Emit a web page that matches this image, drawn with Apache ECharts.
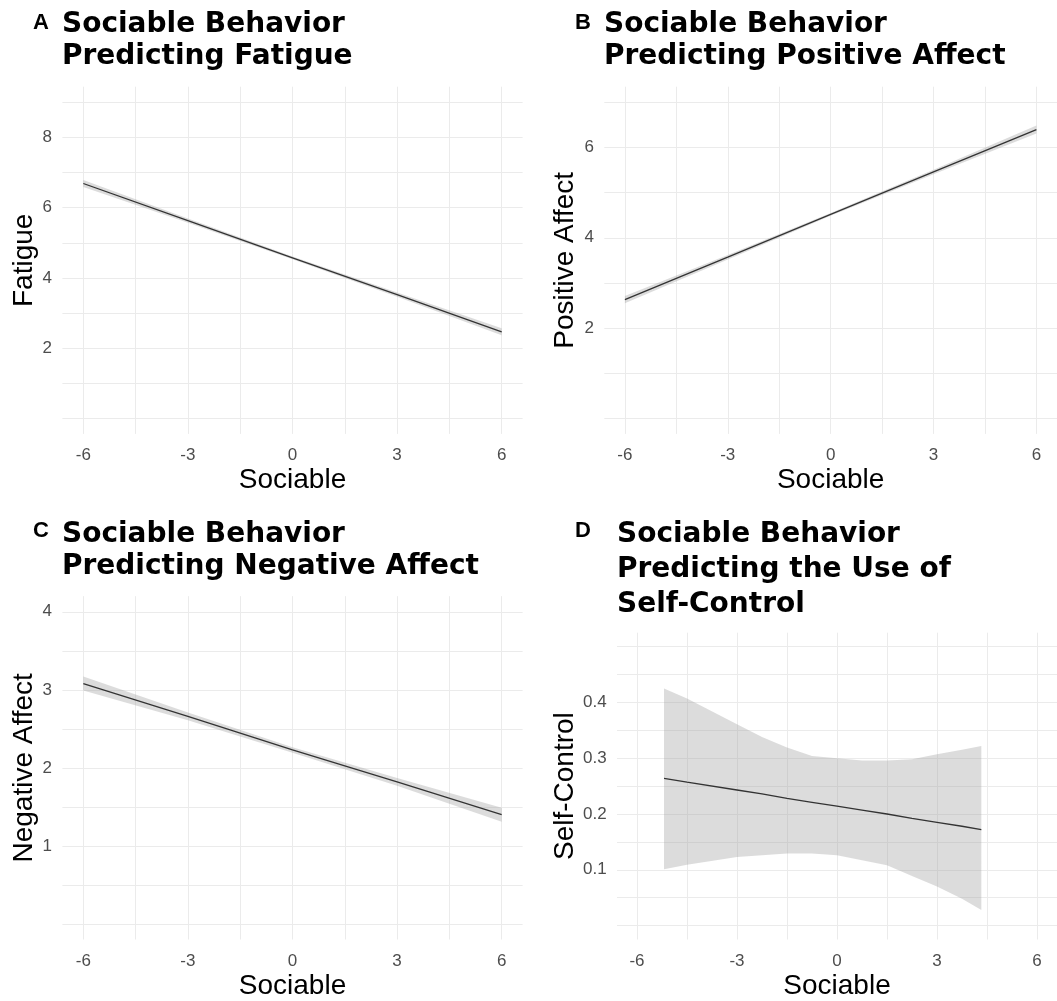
<!DOCTYPE html>
<html>
<head>
<meta charset="utf-8">
<script src="https://cdn.jsdelivr.net/npm/echarts@6/dist/echarts.min.js"></script>
<style>
  html, body { margin: 0; padding: 0; background: #ffffff; }
  #chart { width: 1057px; height: 1001px; }
</style>
</head>
<body>
<div id="chart"></div>
<script>
// ---- shared x axis: sociable behaviour (person-centred) ----
const xTitle = 'Sociable';
const xTickLabels = [-6, -3, 0, 3, 6];
const xGridValues = [-6, -4.5, -3, -1.5, 0, 1.5, 3, 4.5, 6];

// ---- A: fatigue ----
const fatigueX = [-6, -3, 0, 3, 6];
const fatigueFit = [6.69, 5.63, 4.57, 3.52, 2.46];
const fatigueLower = [6.59, 5.57, 4.53, 3.46, 2.36];
const fatigueUpper = [6.79, 5.69, 4.61, 3.58, 2.56];
const fatigueTicks = [2, 4, 6, 8];
const fatigueGrid = [0, 1, 2, 3, 4, 5, 6, 7, 8, 9];

// ---- B: positive affect ----
const positiveX = [-6, -3, 0, 3, 6];
const positiveFit = [2.63, 3.57, 4.52, 5.46, 6.40];
const positiveLower = [2.55, 3.52, 4.49, 5.41, 6.31];
const positiveUpper = [2.71, 3.62, 4.55, 5.51, 6.49];
const positiveTicks = [2, 4, 6];
const positiveGrid = [0, 1, 2, 3, 4, 5, 6, 7];

// ---- C: negative affect ----
const negativeX = [-6, -3, 0, 3, 6];
const negativeFit = [3.08, 2.66, 2.23, 1.82, 1.40];
const negativeLower = [2.99, 2.61, 2.195, 1.77, 1.31];
const negativeUpper = [3.17, 2.71, 2.265, 1.87, 1.49];
const negativeTicks = [1, 2, 3, 4];
const negativeGrid = [0, 0.5, 1, 1.5, 2, 2.5, 3, 3.5, 4];

// ---- D: use of self-control ----
const selfControlX = [-5.19, -4.5, -3, -2.25, -1.5, -0.75, 0, 0.75, 1.5, 2.25, 3, 3.75, 4.33];
const selfControlFit = [0.264, 0.257, 0.243, 0.236, 0.228, 0.221, 0.214, 0.207, 0.200, 0.192, 0.185, 0.178, 0.172];
const selfControlLower = [0.101, 0.109, 0.123, 0.126, 0.129, 0.129, 0.126, 0.117, 0.108, 0.089, 0.070, 0.048, 0.028];
const selfControlUpper = [0.425, 0.407, 0.361, 0.338, 0.319, 0.304, 0.300, 0.296, 0.296, 0.298, 0.307, 0.315, 0.322];
const selfControlTicks = [0.1, 0.2, 0.3, 0.4];
const selfControlGrid = [0, 0.05, 0.1, 0.15, 0.2, 0.25, 0.3, 0.35, 0.4, 0.45, 0.5];

// ---- panel layout and labels ----
const panels = [
  { tag: 'A', title: 'Sociable Behavior\nPredicting Fatigue', yTitle: 'Fatigue',
    x: fatigueX, fit: fatigueFit, lower: fatigueLower, upper: fatigueUpper,
    yTicks: fatigueTicks, yGrid: fatigueGrid, yMin: -0.45, yMax: 9.45,
    box: { left: 62.4, top: 86.7, width: 460.2, height: 347.2 },
    titlePos: [62, 9], titleLH: 31.7, tagPos: [33, 22.7], yNameGap: 23.4 },
  { tag: 'B', title: 'Sociable Behavior\nPredicting Positive Affect', yTitle: 'Positive Affect',
    x: positiveX, fit: positiveFit, lower: positiveLower, upper: positiveUpper,
    yTicks: positiveTicks, yGrid: positiveGrid, yMin: -0.35, yMax: 7.35,
    box: { left: 604.3, top: 86.7, width: 461.6, height: 347.2 },
    titlePos: [604, 9], titleLH: 31.7, tagPos: [575, 22.7], yNameGap: 24.7 },
  { tag: 'C', title: 'Sociable Behavior\nPredicting Negative Affect', yTitle: 'Negative Affect',
    x: negativeX, fit: negativeFit, lower: negativeLower, upper: negativeUpper,
    yTicks: negativeTicks, yGrid: negativeGrid, yMin: -0.2, yMax: 4.2,
    box: { left: 62.4, top: 596.2, width: 460.2, height: 346.2 },
    titlePos: [62, 519], titleLH: 31.7, tagPos: [33, 531.4], yNameGap: 22.8 },
  { tag: 'D', title: 'Sociable Behavior\nPredicting the Use of\nSelf-Control', yTitle: 'Self-Control',
    x: selfControlX, fit: selfControlFit, lower: selfControlLower, upper: selfControlUpper,
    yTicks: selfControlTicks, yGrid: selfControlGrid, yMin: -0.025, yMax: 0.525,
    box: { left: 617, top: 632.7, width: 449.6, height: 309.6 },
    titlePos: [617, 517.3], titleLH: 35, tagPos: [575, 531.4], yNameGap: 37.4 }
];

const gridColor = '#ebebeb';
const tickColor = '#4d4d4d';
const bodyFont = '"Liberation Sans", Arial, sans-serif';
const titleFont = '"DejaVu Sans", "Liberation Sans", sans-serif';

const grids = [], xAxes = [], yAxes = [], series = [], graphics = [];

panels.forEach(function (p, i) {
  grids.push(Object.assign({ containLabel: false }, p.box));

  xAxes.push({
    type: 'value', gridIndex: i, min: -6.6, max: 6.6,
    name: xTitle, nameLocation: 'middle', nameGap: 32.5,
    nameTextStyle: { fontFamily: bodyFont, fontSize: 28, lineHeight: 28, color: '#000' },
    axisLine: { show: false },
    axisTick: { show: false, customValues: xGridValues },
    axisLabel: { customValues: xTickLabels, margin: 13.2, fontFamily: bodyFont,
                 fontSize: 17, lineHeight: 17, color: tickColor },
    splitLine: { show: true, lineStyle: { color: gridColor, width: 1 } }
  });

  yAxes.push({
    type: 'value', gridIndex: i, min: p.yMin, max: p.yMax,
    name: p.yTitle, nameLocation: 'middle', nameGap: p.yNameGap,
    nameTextStyle: { fontFamily: bodyFont, fontSize: 28, lineHeight: 28, color: '#000' },
    axisLine: { show: false },
    axisTick: { show: false, customValues: p.yGrid },
    axisLabel: { customValues: p.yTicks, margin: 10.4, fontFamily: bodyFont,
                 fontSize: 17, lineHeight: 17, color: tickColor },
    splitLine: { show: true, lineStyle: { color: gridColor, width: 1 } }
  });

  // confidence band drawn as one polygon through the axis scales
  const xs = p.x, lo = p.lower, hi = p.upper;
  series.push({
    type: 'custom', xAxisIndex: i, yAxisIndex: i, silent: true, z: 2,
    data: xs.map(function (x, k) { return [x, lo[k], hi[k]]; }),
    encode: { x: 0, y: [1, 2] },
    renderItem: function (params, api) {
      if (params.dataIndex !== 0) return null;
      const upperPts = xs.map(function (x, k) { return api.coord([x, hi[k]]); });
      const lowerPts = xs.map(function (x, k) { return api.coord([x, lo[k]]); }).reverse();
      return {
        type: 'polygon',
        shape: { points: upperPts.concat(lowerPts), smooth: 0 },
        style: { fill: 'rgba(153,153,153,0.34)' }
      };
    }
  });

  series.push({
    type: 'line', xAxisIndex: i, yAxisIndex: i, z: 3,
    data: xs.map(function (x, k) { return [x, p.fit[k]]; }),
    showSymbol: false, symbol: 'none',
    lineStyle: { color: '#333333', width: 1.3 }
  });

  graphics.push({
    type: 'text', x: p.titlePos[0], y: p.titlePos[1], silent: true,
    style: { text: p.title, fontFamily: titleFont, fontWeight: 'bold', fontSize: 28,
             lineHeight: p.titleLH, fill: '#000', align: 'left', verticalAlign: 'top' }
  });
  graphics.push({
    type: 'text', x: p.tagPos[0], y: p.tagPos[1], silent: true,
    style: { text: p.tag, fontFamily: bodyFont, fontWeight: 'bold', fontSize: 22,
             fill: '#000', align: 'left', verticalAlign: 'middle' }
  });
});

const chart = echarts.init(document.getElementById('chart'), null, { renderer: 'canvas' });
chart.setOption({
  backgroundColor: '#ffffff',
  animation: false,
  grid: grids,
  xAxis: xAxes,
  yAxis: yAxes,
  series: series,
  graphic: graphics
});
</script>
</body>
</html>
